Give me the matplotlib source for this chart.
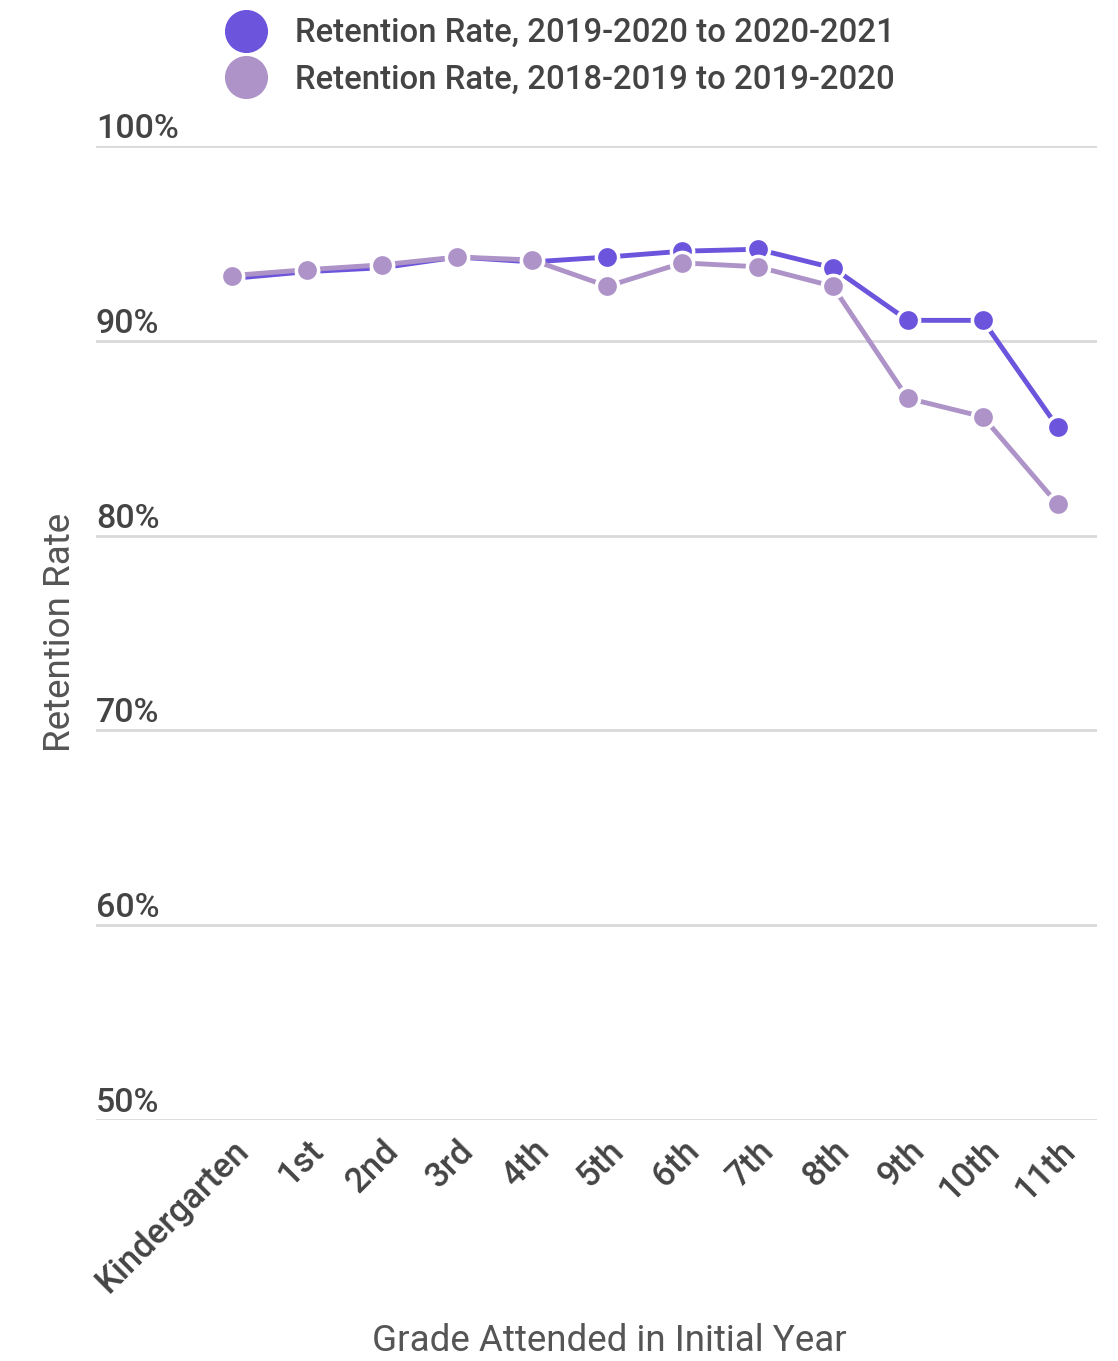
import matplotlib
matplotlib.use("Agg")
import matplotlib.pyplot as plt
from matplotlib.lines import Line2D
import matplotlib.transforms as mtransforms

plt.rcParams['font.family'] = ['Roboto', 'DejaVu Sans']

grades = ["Kindergarten", "1st", "2nd", "3rd", "4th", "5th", "6th", "7th", "8th", "9th", "10th", "11th"]
rate_2019_2021 = [93.2, 93.55, 93.75, 94.3, 94.05, 94.3, 94.6, 94.7, 93.75, 91.05, 91.05, 85.55]
rate_2018_2020 = [93.35, 93.65, 93.9, 94.3, 94.15, 92.8, 94.0, 93.8, 92.8, 87.05, 86.1, 81.6]
series_names = ["Retention Rate, 2019-2020 to 2020-2021", "Retention Rate, 2018-2019 to 2019-2020"]
yticks = [50, 60, 70, 80, 90, 100]
ytick_labels = ["50%", "60%", "70%", "80%", "90%", "100%"]

dark = "#6c54dc"
light = "#ad93c8"
txt = "#444444"

fig = plt.figure(figsize=(11.18, 13.61), dpi=100)
ax = fig.add_axes([96/1118, 1 - 1120/1361, (1097-96)/1118, (1120-146)/1361])

x = list(range(len(grades)))
ax.plot(x, rate_2019_2021, color=dark, lw=3.5, marker='o', markersize=16,
        markerfacecolor=dark, markeredgecolor='white', markeredgewidth=2.5, zorder=3)
ax.plot(x, rate_2018_2020, color=light, lw=3.5, marker='o', markersize=16,
        markerfacecolor=light, markeredgecolor='white', markeredgewidth=2.5, zorder=4)

ax.set_ylim(50, 100)
ax.set_xlim(-1.81, 11.52)
ax.set_yticks(yticks)
ax.set_yticklabels([])
ax.grid(axis='y', color='#d9d9d9', lw=2)
ax.set_axisbelow(True)
for s in ax.spines.values():
    s.set_visible(False)
ax.tick_params(axis='both', length=0)

up = mtransforms.ScaledTranslation(0, 8/100, fig.dpi_scale_trans)
for v, lab in zip(yticks, ytick_labels):
    ax.text(0, v, lab, transform=ax.get_yaxis_transform() + up, ha='left', va='baseline',
            fontsize=24.5, color=txt, fontweight='medium')

ax.set_xticks(x)
ax.set_xticklabels(grades, rotation=45, ha='right', va='top', rotation_mode='anchor',
                   fontsize=25, color=txt, fontweight='medium')
offset = mtransforms.ScaledTranslation(12/100, 0, fig.dpi_scale_trans)
for lbl in ax.get_xticklabels():
    lbl.set_transform(lbl.get_transform() + offset)
ax.tick_params(axis='x', pad=10)

fig.text(609/1118, 1 - 1341/1361, "Grade Attended in Initial Year", ha='center', va='center',
         fontsize=26.5, color='#555555')
fig.text(60/1118, 1 - 632/1361, "Retention Rate", ha='center', va='center', rotation=90,
         fontsize=26.5, color='#555555')

handles = [Line2D([], [], ls='none', marker='o', markersize=30, markerfacecolor=dark, markeredgecolor=dark),
           Line2D([], [], ls='none', marker='o', markersize=30, markerfacecolor=light, markeredgecolor=light)]
leg = fig.legend(handles, series_names, loc='upper left', bbox_to_anchor=(213/1118, 1 - 4/1361),
                 frameon=False, fontsize=23.7, labelspacing=0.45, handletextpad=0.9,
                 handlelength=1.2, borderaxespad=0)
for t in leg.get_texts():
    t.set_color(txt)
    t.set_fontweight('medium')

fig.savefig("out.png", dpi=100)
